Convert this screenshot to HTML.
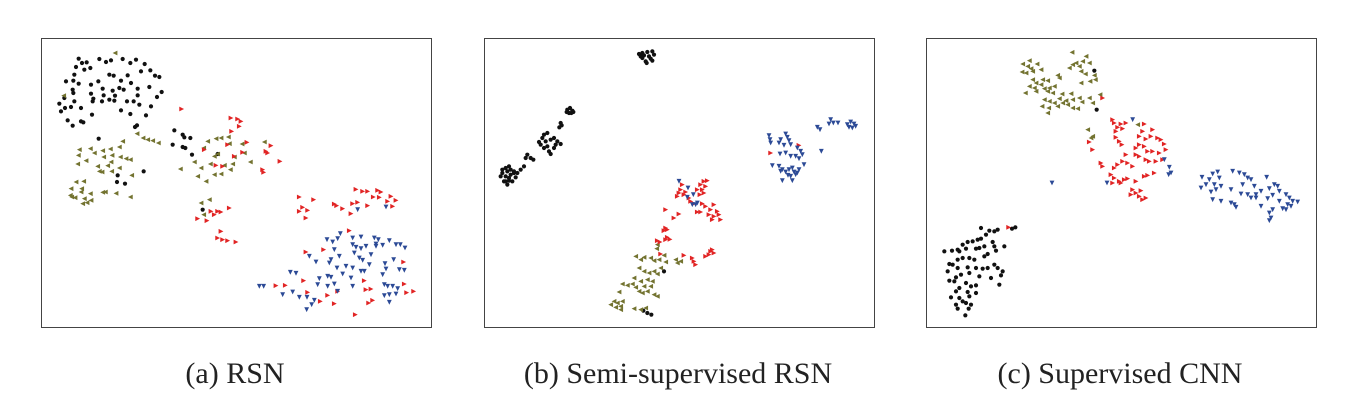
<!DOCTYPE html>
<html><head><meta charset="utf-8"><style>
html,body{margin:0;padding:0;background:#fff;}
svg{display:block;}
.cap{font-family:"Liberation Serif",serif;font-size:30px;fill:#222;}
</style></head><body>
<svg id="chart" width="1372" height="410" viewBox="0 0 1372 410" xmlns="http://www.w3.org/2000/svg"></svg>
<script>
// Embedding coordinates (arbitrary t-SNE units: x 0..1170, y 0..867 top-down)
const panelTitles = ["(a) RSN", "(b) Semi-supervised RSN", "(c) Supervised CNN"];
const seriesNames = ["class-black", "class-olive", "class-red", "class-blue"];

const aBlack = [[113,62],[123,75],[137,73],[105,87],[100,110],[130,95],[148,90],[175,63],[195,72],[210,67],[245,63],[268,75],[285,65],[311,78],[300,100],[328,97],[342,113],[355,117],[75,130],[97,128],[113,137],[95,155],[97,165],[150,167],[157,182],[155,190],[172,130],[185,152],[188,172],[205,110],[218,113],[215,158],[222,173],[240,128],[235,150],[248,155],[260,112],[270,135],[290,152],[290,172],[278,190],[258,190],[295,200],[325,147],[362,162],[348,177],[330,205],[315,232],[288,262],[282,267],[55,197],[60,220],[72,210],[90,207],[100,190],[120,210],[80,247],[95,263],[120,250],[127,253],[153,230],[183,190],[205,185],[220,188],[240,217],[268,228],[150,140],[70,180],[400,277],[425,290],[430,298],[448,300],[395,320],[425,327],[433,330],[453,350],[530,348],[173,302],[308,400],[230,412],[228,432],[252,437],[485,515]];
const aOlive = [[222,45],[68,173],[288,287],[306,300],[320,305],[335,308],[352,315],[115,335],[112,352],[148,332],[160,345],[185,338],[208,333],[235,327],[245,310],[135,368],[110,378],[188,357],[213,352],[238,357],[255,362],[268,365],[170,385],[200,383],[210,372],[235,390],[175,400],[183,402],[212,400],[272,412],[90,452],[105,432],[122,452],[128,430],[148,467],[120,462],[92,477],[88,472],[102,479],[130,482],[150,487],[125,497],[138,494],[185,463],[193,462],[225,466],[268,477],[500,310],[525,302],[540,300],[562,297],[565,317],[488,330],[520,355],[530,348],[460,372],[480,390],[508,378],[418,393],[470,415],[495,430],[520,410],[540,408],[550,382],[575,378],[580,357],[603,318],[610,345],[628,372],[568,395],[670,312],[480,495],[505,485],[488,530]];
const aRed = [[422,213],[570,240],[590,243],[600,250],[595,265],[572,280],[560,320],[490,335],[580,355],[525,382],[545,385],[605,343],[618,313],[690,323],[675,340],[680,345],[717,370],[665,395],[668,403],[510,520],[520,530],[530,520],[540,522],[565,510],[470,542],[498,548],[540,580],[530,600],[545,605],[560,608],[585,612],[775,477],[818,485],[785,508],[800,517],[775,520],[795,540],[945,454],[965,460],[980,460],[1010,457],[1020,462],[997,477],[1015,478],[1050,475],[1065,487],[1055,505],[1040,490],[880,498],[887,503],[905,512],[935,497],[950,493],[930,527],[980,503],[925,578],[795,642],[848,635],[705,743],[733,742],[800,763],[788,728],[860,772],[838,790],[880,797],[890,760],[970,728],[975,755],[990,753],[995,787],[983,795],[1088,672],[1090,738],[1097,764],[1118,760],[943,830]];
const aBlue = [[950,515],[1035,507],[898,587],[890,602],[858,605],[875,612],[935,600],[960,597],[1000,600],[1012,605],[1045,608],[1065,620],[1078,620],[1092,630],[935,620],[945,628],[960,632],[975,625],[1005,625],[1025,622],[880,635],[805,655],[825,672],[865,675],[870,665],[895,655],[940,645],[955,660],[965,667],[990,650],[985,680],[1005,618],[1032,677],[1035,693],[1058,665],[1075,695],[1090,697],[1025,710],[888,690],[915,685],[935,690],[960,700],[970,700],[748,703],[765,706],[835,722],[860,715],[870,718],[905,708],[930,720],[655,745],[668,745],[830,740],[860,745],[880,738],[890,760],[935,745],[1030,740],[1040,745],[1055,745],[1070,752],[1045,770],[1030,773],[1065,768],[725,770],[755,762],[775,778],[798,778],[820,787],[812,800],[797,815],[1045,793]];

const bBlack = [[465,48],[475,45],[490,42],[505,40],[510,50],[500,62],[485,70],[475,60],[495,55],[480,52],[470,55],[488,75],[505,68],[250,215],[258,210],[265,218],[255,225],[262,225],[268,222],[248,222],[230,255],[233,262],[226,268],[180,290],[190,285],[175,300],[165,312],[185,310],[200,305],[210,300],[220,310],[230,318],[215,320],[210,330],[195,340],[200,348],[180,330],[190,325],[170,320],[130,350],[140,360],[148,365],[125,360],[120,385],[110,395],[100,405],[55,395],[65,390],[75,385],[80,395],[90,405],[95,418],[85,430],[70,440],[60,430],[50,415],[55,405],[65,415],[75,420],[80,410],[70,400],[90,400],[65,430],[75,428],[540,700],[478,818],[490,825],[502,830]];
const bOlive = [[520,620],[518,632],[540,652],[455,655],[470,665],[480,658],[500,660],[510,668],[525,665],[545,672],[575,665],[590,670],[580,675],[530,690],[510,700],[495,705],[520,708],[465,690],[480,700],[450,720],[470,730],[490,725],[505,730],[500,745],[480,745],[415,738],[430,742],[445,738],[455,748],[465,760],[475,765],[490,760],[520,775],[510,770],[405,762],[380,800],[390,790],[400,795],[410,805],[415,790],[395,808],[410,815],[450,812],[470,815],[485,810]];
const bRed = [[945,322],[860,345],[595,440],[590,455],[585,465],[580,475],[600,470],[605,462],[615,480],[660,430],[670,428],[650,440],[655,455],[665,445],[660,465],[648,470],[640,455],[620,490],[630,497],[655,497],[665,505],[640,522],[650,522],[690,500],[680,515],[700,520],[705,530],[690,535],[685,545],[710,545],[675,530],[545,515],[585,528],[570,540],[545,570],[550,575],[540,578],[550,598],[545,605],[558,604],[520,608],[528,612],[530,648],[600,652],[625,660],[630,670],[635,680],[665,655],[680,640],[685,635],[690,645],[675,650]];
const bBlue = [[1090,260],[1100,252],[1110,258],[1115,265],[1105,270],[1095,268],[1040,245],[1048,255],[1035,258],[1062,255],[1000,268],[1008,275],[1012,340],[855,293],[858,305],[860,315],[905,288],[910,298],[890,305],[915,308],[885,315],[900,322],[920,320],[940,330],[950,340],[955,350],[888,348],[905,345],[920,355],[935,355],[945,362],[960,380],[865,383],[885,385],[895,395],[905,402],[915,395],[925,390],[930,402],[940,405],[945,395],[920,415],[925,428],[895,428],[912,412],[935,410],[890,400],[585,430],[612,450],[628,470],[610,478],[640,495],[625,500],[635,500]];

const cBlack = [[165,570],[190,578],[205,580],[215,575],[268,568],[258,572],[180,590],[155,605],[165,602],[140,610],[125,612],[110,620],[95,635],[55,640],[78,638],[100,640],[120,632],[150,632],[160,630],[175,625],[200,612],[205,625],[210,638],[235,625],[185,648],[175,655],[145,665],[130,660],[110,660],[95,665],[70,678],[80,680],[95,690],[125,688],[150,690],[170,692],[185,690],[205,680],[215,690],[230,700],[225,712],[195,720],[160,715],[130,705],[105,710],[90,718],[65,700],[70,728],[85,730],[120,735],[135,745],[150,742],[100,750],[90,760],[125,762],[150,765],[130,775],[75,778],[100,780],[110,790],[120,795],[90,800],[135,800],[95,812],[128,812],[118,832],[220,740],[505,98],[512,215]];
const cOlive = [[438,43],[290,78],[310,68],[333,78],[305,85],[315,92],[288,102],[300,105],[320,100],[345,95],[395,112],[400,120],[320,125],[330,135],[350,125],[365,128],[310,145],[325,150],[345,140],[355,152],[370,150],[385,145],[298,165],[330,160],[365,160],[380,165],[408,168],[435,167],[400,182],[355,185],[370,190],[385,195],[410,195],[420,188],[440,185],[460,180],[468,192],[348,205],[368,210],[395,205],[425,200],[440,210],[455,212],[365,225],[430,90],[440,80],[450,75],[460,85],[470,70],[480,55],[490,75],[465,100],[478,108],[492,130],[508,125],[505,112],[465,135],[490,180],[522,170],[500,195],[635,260],[485,275],[500,295],[495,300]];
const cRed = [[530,180],[248,568],[560,245],[565,255],[575,268],[585,258],[600,255],[655,258],[570,280],[590,272],[570,298],[580,310],[588,320],[650,280],[680,275],[640,295],[660,303],[675,295],[695,300],[705,305],[715,318],[720,335],[640,320],[630,330],[655,325],[665,340],[680,340],[700,345],[600,350],[590,370],[605,375],[575,380],[565,390],[620,385],[640,355],[630,350],[660,365],[670,370],[690,370],[710,365],[525,375],[530,385],[555,410],[565,420],[580,430],[595,425],[605,422],[560,435],[585,435],[630,430],[655,415],[665,412],[685,405],[620,455],[630,465],[645,458],[615,470],[640,475],[650,485],[660,480],[490,312],[500,335]];
const cBlue = [[620,245],[715,365],[730,388],[735,405],[728,410],[378,435],[543,435],[828,418],[860,408],[875,402],[880,420],[850,425],[840,440],[865,440],[885,445],[870,455],[855,462],[825,450],[920,400],[940,405],[955,410],[965,420],[975,425],[1022,418],[915,455],[945,468],[965,470],[975,480],[990,470],[985,445],[1005,460],[1030,452],[1045,440],[1055,445],[1060,460],[1040,472],[1025,482],[1005,505],[1040,515],[1030,525],[1035,540],[1030,548],[1080,470],[1090,480],[1100,490],[1115,492],[1085,500],[1070,512],[1080,515],[1095,505],[860,485],[885,490],[915,495],[925,500],[930,508],[950,440],[990,480],[1060,490]];

const panelData = [[aBlack,aOlive,aRed,aBlue],[bBlack,bOlive,bRed,bBlue],[cBlack,cOlive,cRed,cBlue]];

const NS = "http://www.w3.org/2000/svg";
const svg = document.getElementById("chart");
const frameLefts = [41, 484, 926];
const frameTop = 38, frameW = 390, frameH = 289;
const colors = ["#111111", "#737330", "#e12424", "#2c4a96"];
const domX = [0, 1170], domY = [0, 867];
function xScale(v, left) { return left + (v - domX[0]) / (domX[1] - domX[0]) * frameW; }
function yScale(v) { return frameTop + (v - domY[0]) / (domY[1] - domY[0]) * frameH; }

function mark(kind, cx, cy, color) {
  const s = 2.4;
  let el;
  if (kind === 0) {
    el = document.createElementNS(NS, "circle");
    el.setAttribute("cx", cx); el.setAttribute("cy", cy); el.setAttribute("r", 2.1);
  } else {
    el = document.createElementNS(NS, "polygon");
    let pts;
    if (kind === 1) pts = [[cx - s, cy], [cx + s, cy - s], [cx + s, cy + s]];
    else if (kind === 2) pts = [[cx + s, cy], [cx - s, cy - s], [cx - s, cy + s]];
    else pts = [[cx - s, cy - s], [cx + s, cy - s], [cx, cy + s]];
    el.setAttribute("points", pts.map(p => p.join(",")).join(" "));
  }
  el.setAttribute("fill", color);
  return el;
}

panelData.forEach((series, pi) => {
  const g = document.createElementNS(NS, "g");
  
  
  const rect = document.createElementNS(NS, "rect");
  rect.setAttribute("x", frameLefts[pi] + 0.5); rect.setAttribute("y", frameTop + 0.5);
  rect.setAttribute("width", frameW); rect.setAttribute("height", frameH);
  rect.setAttribute("fill", "#fff"); rect.setAttribute("stroke", "#444"); rect.setAttribute("stroke-width", "1");
  
  
  g.appendChild(rect);
  series.forEach((pts, si) => {
    const sg = document.createElementNS(NS, "g");
    
    
    pts.forEach(p => {
      const m = mark(si, xScale(p[0], frameLefts[pi]), yScale(p[1]), colors[si]);
      
      
      sg.appendChild(m);
    });
    g.appendChild(sg);
  });
  const t = document.createElementNS(NS, "text");
  t.setAttribute("x", frameLefts[pi] + frameW / 2 - 1); t.setAttribute("y", 383);
  t.setAttribute("text-anchor", "middle"); t.setAttribute("class", "cap");
  t.textContent = panelTitles[pi];
  
  
  g.appendChild(t);
  svg.appendChild(g);
});
</script>
</body></html>
